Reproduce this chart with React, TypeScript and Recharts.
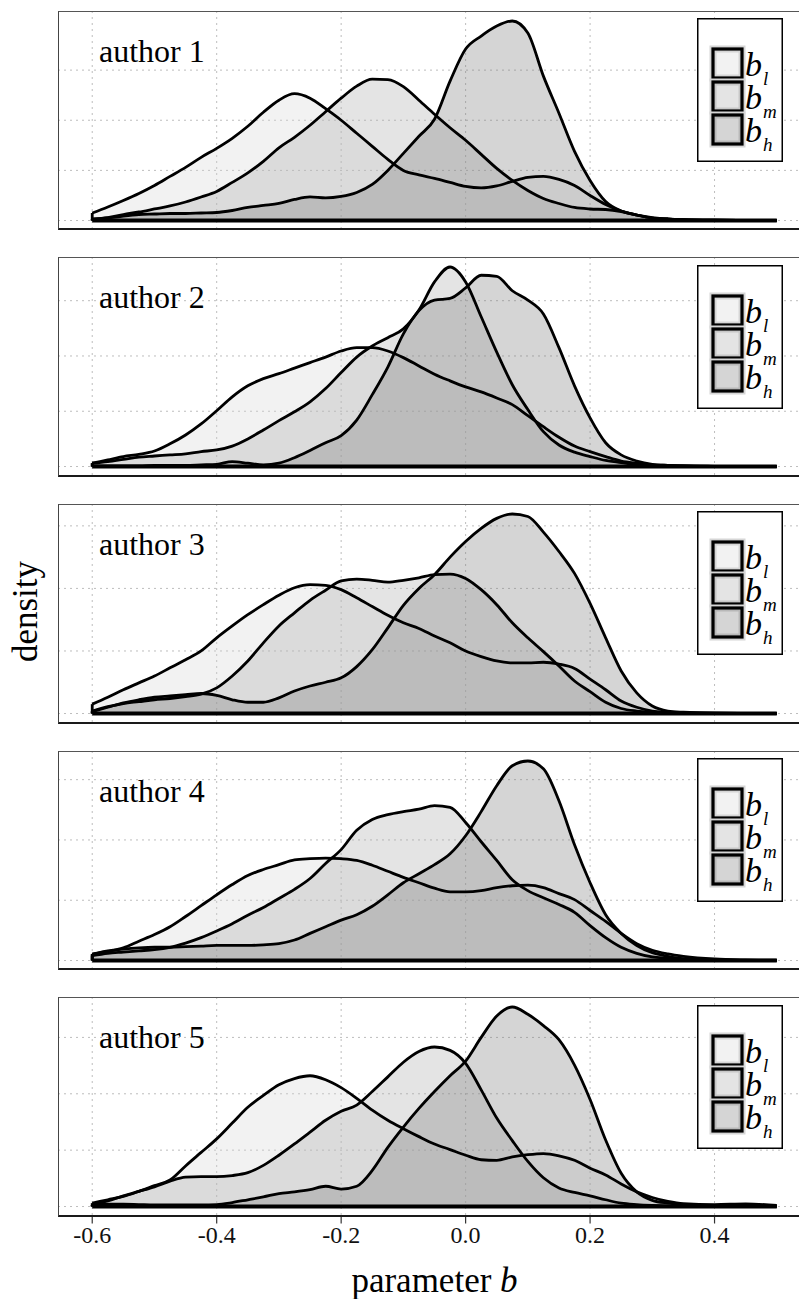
import React from 'react';
import {
  AreaChart,
  Area,
  XAxis,
  YAxis,
  CartesianGrid,
  ReferenceLine,
  Legend,
} from 'recharts';

// Evaluation points of parameter b (shared by every density curve)
const B_VALUES = [
  -0.6, -0.575, -0.55, -0.525, -0.5, -0.475, -0.45, -0.425, -0.4, -0.375,
  -0.35, -0.325, -0.3, -0.275, -0.25, -0.225, -0.2, -0.175, -0.15, -0.125,
  -0.1, -0.075, -0.05, -0.025, 0, 0.025, 0.05, 0.075, 0.1, 0.125,
  0.15, 0.175, 0.2, 0.225, 0.25, 0.275, 0.3, 0.325, 0.35, 0.4, 0.45, 0.5,
];

const X_TICKS = [-0.6, -0.4, -0.2, 0.0, 0.2, 0.4];

// author 1
const A1_BL = [0.15, 0.27, 0.4, 0.54, 0.7, 0.88, 1.06, 1.26, 1.44, 1.64, 1.88, 2.16, 2.4, 2.53, 2.44, 2.23, 2.0, 1.74, 1.48, 1.22, 1.0, 0.91, 0.84, 0.76, 0.68, 0.65, 0.69, 0.78, 0.86, 0.88, 0.82, 0.7, 0.5, 0.32, 0.19, 0.11, 0.05, 0.03, 0.015, 0.005, 0.002, 0.001];
const A1_BM = [0.03, 0.06, 0.12, 0.17, 0.23, 0.29, 0.37, 0.47, 0.58, 0.76, 0.95, 1.18, 1.45, 1.66, 1.9, 2.17, 2.44, 2.68, 2.82, 2.81, 2.67, 2.4, 2.12, 1.85, 1.6, 1.32, 1.04, 0.8, 0.6, 0.44, 0.34, 0.26, 0.23, 0.22, 0.18, 0.11, 0.06, 0.03, 0.015, 0.005, 0.002, 0.001];
const A1_BH = [0.02, 0.05, 0.09, 0.12, 0.13, 0.14, 0.14, 0.15, 0.16, 0.2, 0.26, 0.3, 0.34, 0.42, 0.47, 0.45, 0.48, 0.56, 0.72, 1.0, 1.34, 1.68, 2.02, 2.78, 3.42, 3.68, 3.88, 3.98, 3.74, 2.88, 2.14, 1.38, 0.8, 0.38, 0.19, 0.11, 0.05, 0.03, 0.015, 0.005, 0.002, 0.001];

// author 2
const A2_BL = [0.06, 0.12, 0.18, 0.22, 0.28, 0.41, 0.57, 0.77, 1.01, 1.26, 1.46, 1.59, 1.68, 1.78, 1.88, 1.98, 2.09, 2.15, 2.15, 2.09, 1.97, 1.82, 1.67, 1.55, 1.44, 1.35, 1.24, 1.12, 0.92, 0.72, 0.53, 0.37, 0.27, 0.18, 0.1, 0.06, 0.03, 0.02, 0.01, 0.003, 0.001, 0];
const A2_BM = [0.06, 0.09, 0.13, 0.17, 0.19, 0.21, 0.23, 0.27, 0.3, 0.37, 0.5, 0.66, 0.83, 0.99, 1.17, 1.41, 1.7, 1.98, 2.18, 2.33, 2.49, 2.83, 3.34, 3.61, 3.34, 2.71, 2.07, 1.48, 1.03, 0.63, 0.39, 0.26, 0.18, 0.11, 0.07, 0.03, 0.02, 0.01, 0.005, 0.002, 0.001, 0];
const A2_BH = [0.01, 0.01, 0.01, 0.01, 0.02, 0.02, 0.02, 0.03, 0.04, 0.09, 0.06, 0.03, 0.06, 0.16, 0.29, 0.43, 0.56, 0.84, 1.3, 1.8, 2.4, 2.82, 3.01, 3.04, 3.23, 3.46, 3.44, 3.18, 3.01, 2.76, 2.15, 1.46, 0.88, 0.43, 0.21, 0.1, 0.04, 0.02, 0.01, 0.004, 0.001, 0];

// author 3
const A3_BL = [0.15, 0.26, 0.38, 0.49, 0.6, 0.73, 0.86, 1.0, 1.21, 1.4, 1.58, 1.74, 1.89, 2.01, 2.06, 2.05, 1.98, 1.85, 1.71, 1.57, 1.45, 1.36, 1.24, 1.13, 1.0, 0.91, 0.84, 0.81, 0.81, 0.82, 0.79, 0.72, 0.55, 0.38, 0.2, 0.1, 0.04, 0.02, 0.01, 0.004, 0.001, 0];
const A3_BM = [0.04, 0.11, 0.16, 0.19, 0.22, 0.24, 0.27, 0.31, 0.41, 0.6, 0.84, 1.13, 1.4, 1.61, 1.81, 1.97, 2.12, 2.15, 2.13, 2.1, 2.13, 2.17, 2.22, 2.23, 2.16, 1.98, 1.74, 1.45, 1.21, 0.99, 0.76, 0.52, 0.35, 0.18, 0.08, 0.04, 0.02, 0.01, 0.005, 0.002, 0.001, 0];
const A3_BH = [0.03, 0.1, 0.17, 0.22, 0.26, 0.28, 0.3, 0.32, 0.29, 0.22, 0.18, 0.18, 0.25, 0.36, 0.44, 0.5, 0.57, 0.75, 1.02, 1.37, 1.73, 2.0, 2.22, 2.5, 2.75, 2.96, 3.12, 3.19, 3.15, 2.9, 2.59, 2.24, 1.76, 1.21, 0.68, 0.33, 0.12, 0.04, 0.02, 0.005, 0.002, 0.001];

// author 4
const A4_BL = [0.11, 0.15, 0.21, 0.32, 0.43, 0.56, 0.73, 0.91, 1.09, 1.26, 1.41, 1.51, 1.59, 1.67, 1.69, 1.7, 1.69, 1.66, 1.58, 1.48, 1.38, 1.29, 1.2, 1.14, 1.14, 1.16, 1.21, 1.24, 1.25, 1.21, 1.11, 1.01, 0.83, 0.65, 0.45, 0.28, 0.17, 0.11, 0.07, 0.025, 0.01, 0.005];
const A4_BM = [0.08, 0.12, 0.14, 0.16, 0.18, 0.22, 0.29, 0.38, 0.49, 0.61, 0.75, 0.88, 1.03, 1.18, 1.36, 1.61, 1.84, 2.16, 2.34, 2.42, 2.47, 2.51, 2.57, 2.54, 2.29, 1.97, 1.66, 1.34, 1.16, 1.04, 0.93, 0.8, 0.58, 0.38, 0.22, 0.12, 0.06, 0.04, 0.02, 0.008, 0.003, 0.001];
const A4_BH = [0.1, 0.16, 0.19, 0.21, 0.22, 0.22, 0.23, 0.24, 0.25, 0.25, 0.25, 0.26, 0.28, 0.34, 0.45, 0.56, 0.67, 0.76, 0.9, 1.09, 1.29, 1.44, 1.59, 1.77, 2.07, 2.47, 2.9, 3.23, 3.31, 3.18, 2.65, 1.92, 1.29, 0.76, 0.45, 0.25, 0.13, 0.07, 0.03, 0.01, 0.003, 0.001];

// author 5
const A5_BL = [0.06, 0.12, 0.18, 0.27, 0.37, 0.47, 0.72, 0.96, 1.2, 1.48, 1.76, 1.97, 2.16, 2.27, 2.32, 2.25, 2.11, 1.92, 1.71, 1.53, 1.38, 1.24, 1.11, 1.01, 0.91, 0.83, 0.82, 0.88, 0.92, 0.94, 0.9, 0.82, 0.68, 0.56, 0.4, 0.26, 0.16, 0.09, 0.05, 0.035, 0.045, 0.02];
const A5_BM = [0.03, 0.1, 0.19, 0.27, 0.35, 0.45, 0.52, 0.53, 0.53, 0.55, 0.6, 0.73, 0.91, 1.11, 1.32, 1.53, 1.69, 1.8, 2.04, 2.3, 2.56, 2.75, 2.83, 2.77, 2.54, 2.07, 1.57, 1.17, 0.8, 0.51, 0.33, 0.25, 0.19, 0.12, 0.06, 0.035, 0.02, 0.01, 0.005, 0.002, 0.001, 0];
const A5_BH = [0.03, 0.04, 0.04, 0.035, 0.03, 0.03, 0.03, 0.03, 0.035, 0.07, 0.12, 0.17, 0.23, 0.26, 0.3, 0.36, 0.31, 0.36, 0.64, 1.05, 1.41, 1.74, 2.04, 2.32, 2.58, 3.0, 3.38, 3.54, 3.41, 3.21, 2.96, 2.51, 1.9, 1.18, 0.59, 0.26, 0.11, 0.06, 0.035, 0.015, 0.005, 0.002];

const AUTHOR_NAMES = ['author 1', 'author 2', 'author 3', 'author 4', 'author 5'];

const AUTHORS = [
  { name: AUTHOR_NAMES[0], bl: A1_BL, bm: A1_BM, bh: A1_BH },
  { name: AUTHOR_NAMES[1], bl: A2_BL, bm: A2_BM, bh: A2_BH },
  { name: AUTHOR_NAMES[2], bl: A3_BL, bm: A3_BM, bh: A3_BH },
  { name: AUTHOR_NAMES[3], bl: A4_BL, bm: A4_BM, bh: A4_BH },
  { name: AUTHOR_NAMES[4], bl: A5_BL, bm: A5_BM, bh: A5_BH },
];

const SERIES = [
  { key: 'bl', sub: 'l', fill: '#d4d4d4' },
  { key: 'bm', sub: 'm', fill: '#a5a5a5' },
  { key: 'bh', sub: 'h', fill: '#737373' },
];

const FILL_OPACITY = 0.3;
const LINE_W = 2.8;
const FONT = 'Liberation Serif, Times New Roman, Times, serif';

// layout
const PANEL_TOPS = [10.7, 257.3, 504, 750.5, 997.3];
const PANEL_H = 219.5;
const PLOT_LEFT = 58;
const PLOT_W = 753;
const AXIS_H = 78;
const X_MIN = -0.6;
const X_MAX = 0.5;
const X_PAD = (X_MAX - X_MIN) * 0.05;
const X_DOMAIN = [X_MIN - X_PAD, X_MAX + X_PAD];

function BTick(props: any) {
  const { x, y, payload } = props;
  return (
    <text x={x} y={y + 17} textAnchor="middle" fontFamily={FONT} fontSize={24} fill="#111">
      {Number(payload.value).toFixed(1)}
    </text>
  );
}

function LegendBox() {
  return (
    <svg width={86} height={144} style={{ display: 'block', overflow: 'visible' }}>
      <rect x={0.75} y={0.75} width={84.5} height={142.5} fill="#fff" stroke="#000" strokeWidth={1.5} />
      {SERIES.map((s, i) => {
        const y = 31 + i * 33;
        return (
          <g key={s.key}>
            <rect x={16} y={y} width={29} height={29} fill="#fff" stroke="#d6d6d6" strokeWidth={7} />
            <rect
              x={16}
              y={y}
              width={29}
              height={29}
              fill={s.fill}
              fillOpacity={FILL_OPACITY}
              stroke="#000"
              strokeWidth={3.2}
            />
            <text x={48} y={y + 27} fontFamily={FONT} fontStyle="italic" fontSize={34} fill="#000">
              b
              <tspan fontSize={19} dx={1} dy={9}>
                {s.sub}
              </tspan>
            </text>
          </g>
        );
      })}
    </svg>
  );
}

function Panel({ author, index, last }: { author: any; index: number; last: boolean }) {
  const data = B_VALUES.map((x, i) => ({
    x,
    bl: author.bl[i],
    bm: author.bm[i],
    bh: author.bh[i],
  }));
  const peak = Math.max(...author.bl, ...author.bm, ...author.bh);
  const pad = peak * 0.05;
  const yTicks: number[] = [];
  for (let t = 0; t <= peak; t += 1) yTicks.push(t);
  const axisH = last ? AXIS_H : 0;
  const height = PANEL_H + axisH;
  const firstX = B_VALUES[0];
  const lastX = B_VALUES[B_VALUES.length - 1];

  return (
    <div style={{ position: 'absolute', left: PLOT_LEFT, top: PANEL_TOPS[index], width: PLOT_W, height }}>
      <AreaChart width={PLOT_W} height={height} data={data} margin={{ top: 0, right: 0, bottom: 0, left: 0 }}>
        <CartesianGrid stroke="#bdbdbd" strokeDasharray="2 4" strokeWidth={1} />
        <XAxis
          dataKey="x"
          type="number"
          domain={X_DOMAIN}
          ticks={X_TICKS}
          interval={0}
          allowDataOverflow
          hide={!last}
          height={axisH}
          axisLine={false}
          tickLine={{ stroke: '#333', strokeWidth: 1.2 }}
          tickSize={7}
          tick={<BTick />}
        />
        <YAxis type="number" domain={[-pad, peak + pad]} ticks={yTicks} hide width={0} allowDataOverflow />
        {/* translucent fills first, outlines drawn afterwards on top */}
        {SERIES.map((s) => (
          <Area
            key={`fill-${s.key}`}
            type="monotone"
            dataKey={s.key}
            baseValue={0}
            stroke="none"
            fill={s.fill}
            fillOpacity={FILL_OPACITY}
            dot={false}
            activeDot={false}
            isAnimationActive={false}
          />
        ))}
        {SERIES.map((s) => (
          <Area
            key={`line-${s.key}`}
            type="monotone"
            dataKey={s.key}
            baseValue={0}
            stroke="#000"
            strokeWidth={LINE_W}
            strokeLinejoin="round"
            fill="none"
            dot={false}
            activeDot={false}
            isAnimationActive={false}
            legendType="none"
          />
        ))}
        {SERIES.map((s) => (
          <ReferenceLine
            key={`edge-${s.key}`}
            segment={[
              { x: firstX, y: 0 },
              { x: firstX, y: author[s.key][0] },
            ]}
            stroke="#000"
            strokeWidth={LINE_W}
          />
        ))}
        <ReferenceLine
          segment={[
            { x: firstX, y: 0 },
            { x: lastX, y: 0 },
          ]}
          stroke="#000"
          strokeWidth={3.8}
        />
        <Legend
          layout="vertical"
          verticalAlign="middle"
          align="center"
          wrapperStyle={{ left: 639, top: 7.3, width: 86, height: 144, padding: 0, margin: 0 }}
          content={() => <LegendBox />}
        />
      </AreaChart>
    </div>
  );
}

export default function App() {
  return (
    <div
      style={{
        position: 'absolute',
        left: 0,
        top: 0,
        width: 799,
        height: 1299,
        overflow: 'hidden',
        background: '#fff',
      }}
    >
      {AUTHORS.map((a, i) => (
        <Panel key={a.name} author={a} index={i} last={i === AUTHORS.length - 1} />
      ))}
      {AUTHORS.map((a, i) => (
        <div
          key={`frame-${a.name}`}
          style={{
            position: 'absolute',
            left: PLOT_LEFT,
            top: PANEL_TOPS[i],
            width: 800,
            height: PANEL_H,
            boxSizing: 'border-box',
            borderTop: '1px solid #555',
            borderLeft: '1px solid #444',
            borderBottom: '2px solid #1a1a1a',
            pointerEvents: 'none',
          }}
        />
      ))}
      <svg
        width={799}
        height={1299}
        style={{ position: 'absolute', left: 0, top: 0, pointerEvents: 'none' }}
      >
        {AUTHORS.map((a, i) => (
          <text key={`label-${a.name}`} x={99} y={PANEL_TOPS[i] + 51} fontFamily={FONT} fontSize={32} fill="#000">
            {a.name}
          </text>
        ))}
        <text
          x={36.5}
          y={611.5}
          transform="rotate(-90 36.5 611.5)"
          textAnchor="middle"
          fontFamily={FONT}
          fontSize={35}
          fill="#000"
        >
          density
        </text>
        <text x={434.5} y={1291.5} textAnchor="middle" fontFamily={FONT} fontSize={35} fill="#000">
          parameter <tspan fontStyle="italic">b</tspan>
        </text>
      </svg>
    </div>
  );
}
